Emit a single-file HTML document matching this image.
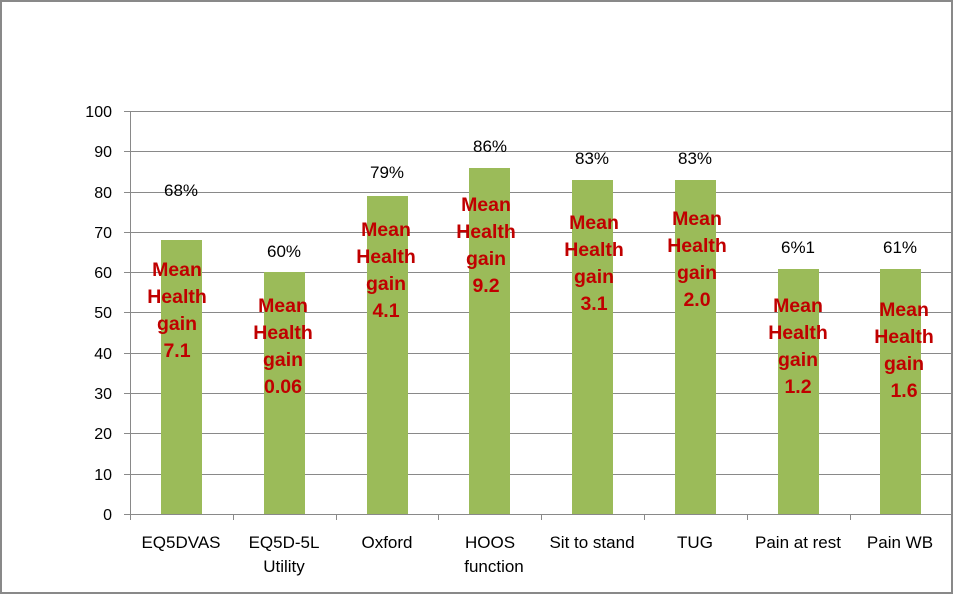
<!DOCTYPE html>
<html><head><meta charset="utf-8"><style>body{margin:0;background:#fff}svg{display:block}</style></head>
<body>
<svg width="954" height="595" xmlns="http://www.w3.org/2000/svg" font-family="Liberation Sans, sans-serif">
<rect x="1" y="1" width="951" height="592" fill="#fff" stroke="#898989" stroke-width="2"/>
<g stroke="#898989" stroke-width="1">
<line x1="124" y1="111.5" x2="951" y2="111.5"/>
<line x1="124" y1="151.5" x2="951" y2="151.5"/>
<line x1="124" y1="192.5" x2="951" y2="192.5"/>
<line x1="124" y1="232.5" x2="951" y2="232.5"/>
<line x1="124" y1="272.5" x2="951" y2="272.5"/>
<line x1="124" y1="312.5" x2="951" y2="312.5"/>
<line x1="124" y1="353.5" x2="951" y2="353.5"/>
<line x1="124" y1="393.5" x2="951" y2="393.5"/>
<line x1="124" y1="433.5" x2="951" y2="433.5"/>
<line x1="124" y1="474.5" x2="951" y2="474.5"/>
<line x1="124" y1="514.5" x2="951" y2="514.5"/>
<line x1="130.5" y1="111" x2="130.5" y2="520"/>
<line x1="233.5" y1="514" x2="233.5" y2="520"/>
<line x1="336.5" y1="514" x2="336.5" y2="520"/>
<line x1="438.5" y1="514" x2="438.5" y2="520"/>
<line x1="541.5" y1="514" x2="541.5" y2="520"/>
<line x1="644.5" y1="514" x2="644.5" y2="520"/>
<line x1="747.5" y1="514" x2="747.5" y2="520"/>
<line x1="850.5" y1="514" x2="850.5" y2="520"/>
</g>
<g fill="#9bbb59">
<rect x="161" y="240" width="41" height="274"/>
<rect x="264" y="272" width="41" height="242"/>
<rect x="367" y="196" width="41" height="318"/>
<rect x="469" y="168" width="41" height="346"/>
<rect x="572" y="180" width="41" height="334"/>
<rect x="675" y="180" width="41" height="334"/>
<rect x="778" y="269" width="41" height="245"/>
<rect x="880" y="269" width="41" height="245"/>
</g>
<g font-size="16" fill="#000" text-anchor="end">
<text x="112" y="117">100</text><text x="112" y="157">90</text><text x="112" y="198">80</text>
<text x="112" y="238">70</text><text x="112" y="278">60</text><text x="112" y="318">50</text>
<text x="112" y="359">40</text><text x="112" y="399">30</text><text x="112" y="439">20</text>
<text x="112" y="480">10</text><text x="112" y="520">0</text>
</g>
<g font-size="17" fill="#000" text-anchor="middle">
<text x="181" y="196">68%</text><text x="284" y="257">60%</text><text x="387" y="178">79%</text>
<text x="490" y="152">86%</text><text x="592" y="164">83%</text><text x="695" y="164">83%</text>
<text x="798" y="253">6%1</text><text x="900" y="253">61%</text>
<text x="181" y="548">EQ5DVAS</text><text x="284" y="548">EQ5D-5L</text><text x="284" y="572">Utility</text>
<text x="387" y="548">Oxford</text><text x="490" y="548">HOOS</text><text x="494" y="572">function</text>
<text x="592" y="548">Sit to stand</text><text x="695" y="548">TUG</text>
<text x="798" y="548">Pain at rest</text><text x="900" y="548">Pain WB</text>
</g>
<g font-size="19.5" font-weight="bold" fill="#c00000" text-anchor="middle">
<text x="177" y="276">Mean</text><text x="177" y="303">Health</text><text x="177" y="330">gain</text><text x="177" y="357">7.1</text>
<text x="283" y="312">Mean</text><text x="283" y="339">Health</text><text x="283" y="366">gain</text><text x="283" y="393">0.06</text>
<text x="386" y="236">Mean</text><text x="386" y="263">Health</text><text x="386" y="290">gain</text><text x="386" y="317">4.1</text>
<text x="486" y="211">Mean</text><text x="486" y="238">Health</text><text x="486" y="265">gain</text><text x="486" y="292">9.2</text>
<text x="594" y="229">Mean</text><text x="594" y="256">Health</text><text x="594" y="283">gain</text><text x="594" y="310">3.1</text>
<text x="697" y="225">Mean</text><text x="697" y="252">Health</text><text x="697" y="279">gain</text><text x="697" y="306">2.0</text>
<text x="798" y="312">Mean</text><text x="798" y="339">Health</text><text x="798" y="366">gain</text><text x="798" y="393">1.2</text>
<text x="904" y="316">Mean</text><text x="904" y="343">Health</text><text x="904" y="370">gain</text><text x="904" y="397">1.6</text>
</g>
</svg>
</body></html>
